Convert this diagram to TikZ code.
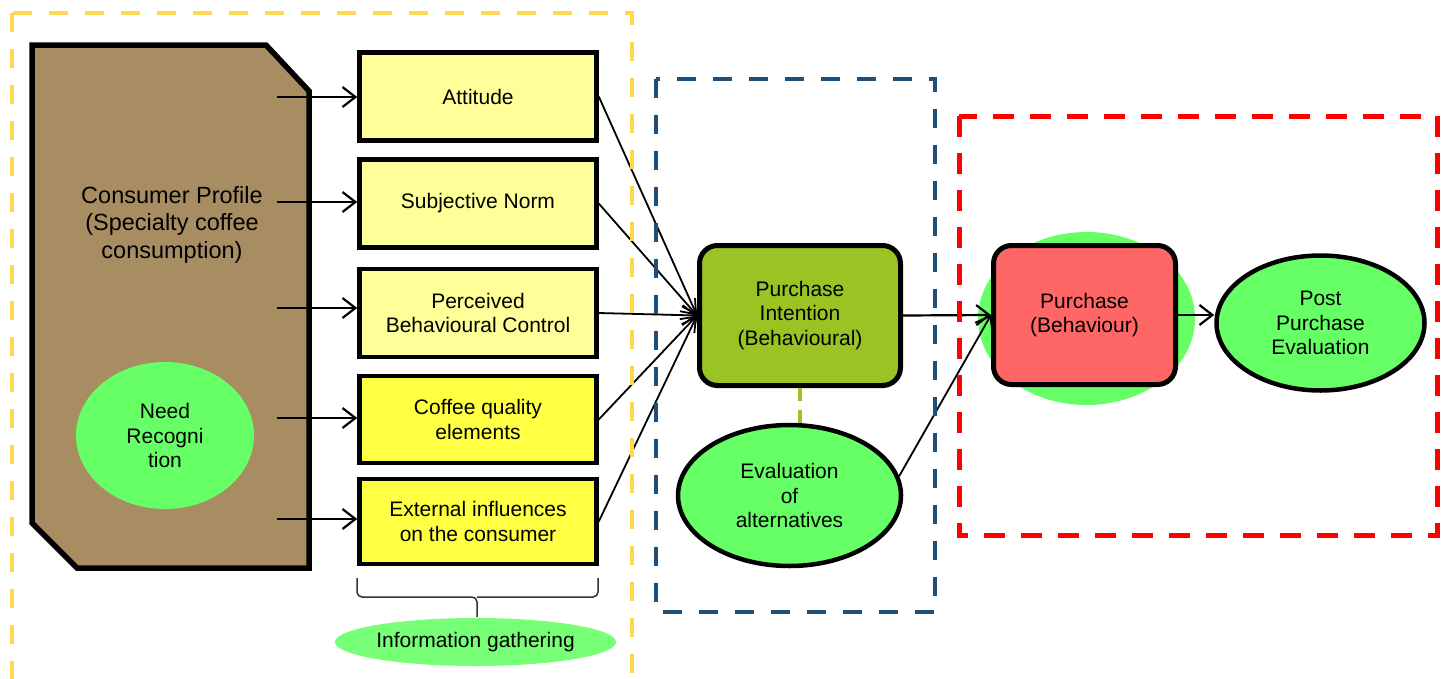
\documentclass[tikz,border=0pt]{standalone}
\usepackage{fontspec}
\setmainfont{Liberation Sans}
\usetikzlibrary{arrows.meta,shapes.geometric,calc}

\definecolor{frameyellow}{HTML}{FFD84F}
\definecolor{frameblue}{HTML}{1E4F78}
\definecolor{framered}{HTML}{FF0000}
\definecolor{profilebrown}{HTML}{A88D62}
\definecolor{paleyellow}{HTML}{FFFF99}
\definecolor{brightyellow}{HTML}{FFFF44}
\definecolor{leafgreen}{HTML}{66FF66}
\definecolor{softgreen}{HTML}{77FF77}
\definecolor{olivegreen}{HTML}{99C424}
\definecolor{dashgreen}{HTML}{99C424}
\definecolor{salmonred}{HTML}{FF6666}
\definecolor{bracegray}{HTML}{333333}

\begin{document}
\begin{tikzpicture}[x=1pt,y=-1pt,
  every node/.style={font=\fontsize{21}{24.5}\selectfont, align=center, inner sep=0pt, text=black},
  factorbox/.style={draw=black, line width=4.5pt, minimum width=237pt, minimum height=88pt},
  stagebox/.style={draw=black, line width=5pt, rounded corners=18pt},
  blob/.style={ellipse, inner sep=0pt},
  flow/.style={draw=black, line width=2.2pt, -{Straight Barb[length=13pt,width=20pt]}},
  phaseframe/.style={line width=4.5pt, dash pattern=on 19pt off 17pt}
]
\useasboundingbox (0,0) rectangle (1449,678);

% consumer profile block with two cut corners
\draw[fill=profilebrown, line width=5.5pt, line join=miter]
  (32,45) -- (266,45) -- (309,91) -- (309,568) -- (77,568) -- (32,523) -- cycle;
\node[font=\fontsize{23.5}{27.5}\selectfont] (profile) at (172,224.5)
  {Consumer Profile\\(Specialty coffee\\consumption)};
\node[blob, fill=leafgreen, minimum width=178pt, minimum height=147pt] (need) at (165,435.5)
  {Need\\Recogni\\tion};

% arrow start points inside the profile block
\coordinate (s1) at (277,97);
\coordinate (s2) at (277,202);
\coordinate (s3) at (277,308);
\coordinate (s4) at (277,418);
\coordinate (s5) at (277,519);

% belief and information factors
\node[factorbox, fill=paleyellow] (att) at (478,96.5) {Attitude};
\node[factorbox, fill=paleyellow] (norm) at (478,203.5) {Subjective Norm};
\node[factorbox, fill=paleyellow] (pbc) at (478,313) {Perceived\\Behavioural Control};
\node[factorbox, fill=brightyellow, minimum height=87pt] (qual) at (478,419.5) {Coffee quality\\elements};
\node[factorbox, fill=brightyellow, minimum height=85pt] (ext) at (478,521.5) {External influences\\on the consumer};

% brace grouping the factors
\draw[bracegray, line width=1.5pt, rounded corners=5pt]
  (357,578) -- (357,597) -- (477,597) -- (477,617);
\draw[bracegray, line width=1.5pt, rounded corners=5pt]
  (598,578) -- (598,597) -- (477,597);
\node[blob, fill=softgreen, minimum width=281pt, minimum height=48pt] (info) at (475.5,642) {};
\node (infotext) at (info.center) {Information gathering};

% decision stages
\node[stagebox, fill=olivegreen, minimum width=201pt, minimum height=140pt] (pi) at (800,315.5)
  {Purchase\\Intention\\(Behavioural)};
\node[blob, draw=black, line width=4.5pt, fill=leafgreen, minimum width=223pt, minimum height=141pt] (eval) at (789.5,495.5)
  {Evaluation\\of\\alternatives};
\node[blob, fill=leafgreen, minimum width=217pt, minimum height=173pt] (halo) at (1086.5,318.5) {};
\node[stagebox, fill=salmonred, minimum width=182pt, minimum height=139pt] (pur) at (1084.5,315)
  {Purchase\\(Behaviour)};
\node[blob, draw=black, line width=4.5pt, fill=leafgreen, minimum width=208pt, minimum height=135pt] (post) at (1320.5,323)
  {Post\\Purchase\\Evaluation};

% connectors
\draw[flow] (s1) -- (s1 -| att.west);
\draw[flow] (s2) -- (s2 -| norm.west);
\draw[flow] (s3) -- (s3 -| pbc.west);
\draw[flow] (s4) -- (s4 -| qual.west);
\draw[flow] (s5) -- (s5 -| ext.west);

\draw[flow, line width=1.8pt] (att.east) -- (pi.west);
\draw[flow, line width=1.8pt] (norm.east) -- (pi.west);
\draw[flow, line width=1.8pt] (pbc.east) -- (pi.west);
\draw[flow, line width=1.8pt] (qual.east) -- (pi.west);
\draw[flow, line width=1.8pt] (ext.east) -- (pi.west);

\draw[flow] (pi.east) -- (pur.west);
\draw[flow, line width=1.8pt] (eval.10) -- (pur.west);
\draw[flow] (pur.east) -- (pur.east -| post.west);

\draw[dashgreen, line width=3.5pt, dash pattern=on 13pt off 9pt] (pi.south) -- (pi.south |- eval.north);

% phase frames
\draw[phaseframe, frameyellow] (12,13) rectangle (632,681);
\draw[phaseframe, frameblue] (656,79) rectangle (935,612);
\draw[phaseframe, framered, line width=5pt, dash pattern=on 21pt off 16pt] (959,116) rectangle (1437,535);
\end{tikzpicture}
\end{document}
